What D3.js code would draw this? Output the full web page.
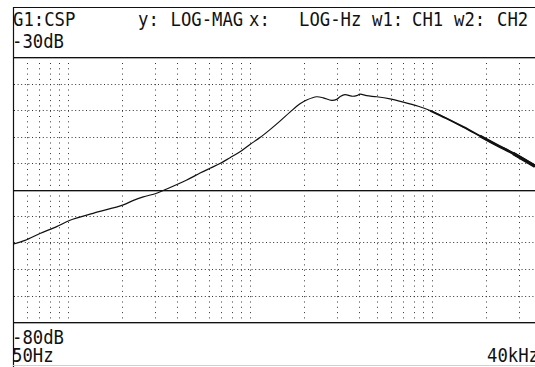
<!DOCTYPE html>
<html>
<head>
<meta charset="utf-8">
<script src="https://cdn.jsdelivr.net/npm/d3@7"></script>
<style>
  html, body { margin: 0; padding: 0; background: #fff; }
  svg { display: block; }
  text { font-family: "DejaVu Sans Mono", monospace; font-size: 19.2px; fill: #111; }
</style>
</head>
<body>
<svg id="chart" width="535" height="367"></svg>
<script>
// ---- data ----
const freqHz = [50, 58.3, 70.4, 87, 103, 138, 202, 228, 260, 308, 350, 451, 534, 605, 687, 780, 885,
  1004, 1139, 1293, 1467, 1665, 1890, 2057, 2335, 2538, 2822, 3007, 3135, 3339, 3634, 3872, 4037,
  4395, 4987, 5902, 6983, 8443, 9790, 12090, 14920, 18430, 22760, 28080, 36950];
const magDb = [-65.3, -64.6, -63.3, -62.0, -60.8, -59.5, -57.9, -57.1, -56.4, -55.7, -54.9, -53.2, -51.9,
  -51.0, -50.1, -49.0, -47.9, -46.5, -45.2, -43.7, -42.1, -40.4, -38.8, -38.1, -37.5, -37.7, -38.2,
  -38.0, -37.5, -37.1, -37.4, -37.3, -37.0, -37.3, -37.5, -37.9, -38.5, -39.3, -40.1, -41.6, -43.2,
  -44.9, -46.6, -48.2, -50.6];
const xMin = 50, xMax = 40000;
const yMin = -80, yMax = -30;
const yGrid = [-75, -70, -65, -60, -50, -45, -40, -35];
const ySolid = [-30, -55, -80];
const xGrid = [60, 70, 80, 90, 100, 200, 300, 400, 500, 600, 700, 800, 900, 1000,
  2000, 3000, 4000, 5000, 6000, 7000, 8000, 9000, 10000, 20000, 30000];
const headerTokens = [
  {t: "G1:CSP", x: 13}, {t: "y:", x: 138}, {t: "LOG-MAG", x: 170.5}, {t: "x:", x: 249},
  {t: "LOG-Hz", x: 299}, {t: "w1:", x: 372}, {t: "CH1", x: 412}, {t: "w2:", x: 454}, {t: "CH2", x: 497}
];
const topLabel = "-30dB", bottomLabel = "-80dB", xStartLabel = "50Hz", xEndLabel = "40kHz";

// ---- chart ----
const svg = d3.select("#chart");
const x = d3.scaleLog().domain([xMin, xMax]).range([12.9, 12.9 + Math.log10(xMax / xMin) * 182]);
const y = d3.scaleLinear().domain([yMin, yMax]).range([322, 57]);
const W = 535;

svg.append("rect").attr("width", 535).attr("height", 367).attr("fill", "#fff");

// vertical dotted grid
svg.append("g").selectAll("line").data(xGrid).join("line")
  .attr("x1", d => Math.round(x(d)) + 0.5).attr("x2", d => Math.round(x(d)) + 0.5)
  .attr("y1", y(yMax) + 1).attr("y2", y(yMin))
  .attr("stroke", "#333").attr("stroke-width", 1)
  .attr("stroke-dasharray", "1,4.3").attr("stroke-dashoffset", -5);

// horizontal dotted grid
svg.append("g").selectAll("line").data(yGrid).join("line")
  .attr("x1", 14).attr("x2", W)
  .attr("y1", d => Math.round(y(d)) + 0.5).attr("y2", d => Math.round(y(d)) + 0.5)
  .attr("stroke", "#333").attr("stroke-width", 1)
  .attr("stroke-dasharray", "1,2.6");

// solid horizontal lines (black + grey shadow)
const solid = svg.append("g");
solid.selectAll("line.s").data(ySolid).join("line").attr("class", "s")
  .attr("x1", 13).attr("x2", W)
  .attr("y1", d => Math.round(y(d)) + 0.5).attr("y2", d => Math.round(y(d)) + 0.5)
  .attr("stroke", "#111").attr("stroke-width", 1);
solid.selectAll("line.g").data(ySolid).join("line").attr("class", "g")
  .attr("x1", 13).attr("x2", W)
  .attr("y1", d => Math.round(y(d)) + 1.5).attr("y2", d => Math.round(y(d)) + 1.5)
  .attr("stroke", "#aaa").attr("stroke-width", 1);

// frame: top line, left vertical line, faint bottom line
svg.append("line").attr("x1", 13).attr("x2", W).attr("y1", 7.5).attr("y2", 7.5)
  .attr("stroke", "#111").attr("stroke-width", 1);
svg.append("line").attr("x1", 13.5).attr("x2", 13.5).attr("y1", 7).attr("y2", 367)
  .attr("stroke", "#111").attr("stroke-width", 1.2);
svg.append("line").attr("x1", 13).attr("x2", W).attr("y1", 365.5).attr("y2", 365.5)
  .attr("stroke", "#d0d0d0").attr("stroke-width", 1);

// curve
const pts = freqHz.map((f, i) => [f, magDb[i]]);
const line = d3.line().x(d => x(d[0])).y(d => y(d[1])).curve(d3.curveCatmullRom.alpha(0.5));
const clip = svg.append("clipPath").attr("id", "plotclip").append("rect")
  .attr("x", 13).attr("y", 57).attr("width", W - 13).attr("height", 265);
const cg = svg.append("g").attr("clip-path", "url(#plotclip)");
cg.append("path").attr("d", line(pts)).attr("fill", "none")
  .attr("stroke", "#111").attr("stroke-width", 1.2).attr("stroke-linejoin", "round");
cg.append("path").attr("d", line(pts.filter(d => d[0] >= 9790))).attr("fill", "none")
  .attr("stroke", "#111").attr("stroke-width", 1.9);
cg.append("path").attr("d", line(pts.filter(d => d[0] >= 18430))).attr("fill", "none")
  .attr("stroke", "#111").attr("stroke-width", 2.7);
cg.append("path").attr("d", line(pts.filter(d => d[0] >= 28080))).attr("fill", "none")
  .attr("stroke", "#111").attr("stroke-width", 3.4);

// texts
const sx = 0.9;
function txt(s, tx, ty) {
  svg.append("text").attr("transform", `translate(${tx},${ty}) scale(${sx},1)`)
    .attr("xml:space", "preserve").text(s);
}
headerTokens.forEach(d => txt(d.t, d.x, 26));
txt(topLabel, 12, 48);
txt(bottomLabel, 12, 344);
txt(xStartLabel, 12, 362);
txt(xEndLabel, 487, 362);
</script>
</body>
</html>
